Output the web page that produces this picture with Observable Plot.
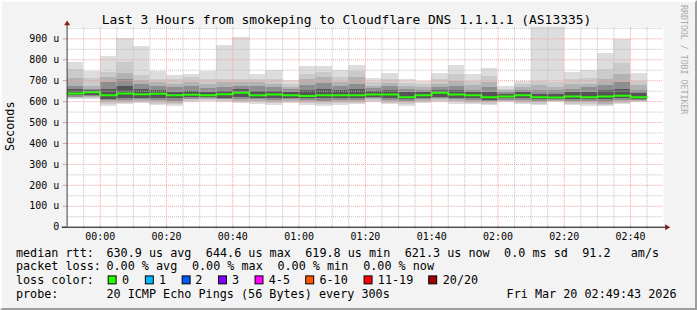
<!DOCTYPE html>
<html><head><meta charset="utf-8">
<script src="https://cdn.jsdelivr.net/npm/d3@7"></script>
<script src="https://cdn.jsdelivr.net/npm/@observablehq/plot@0.6"></script>
<style>
html,body{margin:0;padding:0;background:#f3f3f3;}
#chart{position:relative;width:697px;height:310px;box-sizing:border-box;background:#f3f3f3;
  border-top:2px solid #fdfdfd;border-left:2px solid #fdfdfd;border-right:2px solid #9e9e9e;border-bottom:2px solid #9e9e9e;overflow:hidden}
#chart svg{position:absolute;left:-2px;top:-2px}
</style></head><body><div id="chart"></div>
<script>
// ---- data (5-minute bins, time of bin start) ----
const binTimes = ["23:50","23:55","00:00","00:05","00:10","00:15","00:20","00:25","00:30","00:35",
  "00:40","00:45","00:50","00:55","01:00","01:05","01:10","01:15","01:20","01:25",
  "01:30","01:35","01:40","01:45","01:50","01:55","02:00","02:05","02:10","02:15",
  "02:20","02:25","02:30","02:35","02:40"];
// median rtt (us)
const medianRtt = [639,644.6,630,639,635,638,630,633,630,635, 643,630,634,630,627,630,630,630,634,634,
  621,630,642,634,630,621,625,630,621,619.8, 624,621,624,628,621.3];
// smoke bands (us), outermost to innermost
const pingMax = [788,746,817,900,865,746,725,730,746,868, 906,730,750,701,769,769,750,773,711,735,
  706,698,735,773,730,757,670,698,980,970, 741,751,830,897,735];
const band1Hi = [753,710,741,786,725,706,706,714,706,706, 706,706,706,682,730,738,714,746,690,706,
  687,682,706,730,698,722,659,682,698,690, 706,709,754,782,698];
const band2Hi = [710,674,714,733,703,690,682,690,682,690, 690,690,682,666,706,714,690,714,674,687,
  671,666,682,698,675,690,651,667,675,667, 682,682,706,730,675];
const band3Hi = [671,658,690,706,682,674,666,671,661,666, 671,671,666,658,677,687,671,682,661,671,
  658,655,666,674,655,667,643,655,655,651, 659,667,675,690,655];
const band4Hi = [658,652,658,674,658,655,646,650,646,650, 658,650,650,646,655,658,655,658,650,655,
  642,642,655,655,643,646,635,643,635,635, 643,646,651,659,640];
const band4Lo = [627,630,612,615,617,614,613,619,619,617, 622,616,614,616,613,614,616,614,620,615,
  610,616,622,616,614,606,613,614,610,611, 611,610,611,614,612];
const band3Lo = [622,624,604,606,609,604,602,612,614,611, 611,608,605,608,604,603,606,605,613,605,
  602,608,613,608,605,600,607,605,602,606, 602,601,598,605,607];
const band2Lo = [619,619,595,598,603,595,592,608,611,608, 603,603,598,603,598,595,598,598,608,598,
  595,603,608,603,598,595,603,598,595,603, 595,595,587,598,603];
const band1Lo = [615,613,586,592,597,588,584,600,607,603, 597,595,590,597,590,587,590,592,601,592,
  587,597,601,595,592,588,599,592,588,599, 588,587,581,592,599];
const pingMin = [612,608,576,587,592,582,576,595,603,598, 592,587,582,592,582,579,582,587,595,587,
  579,592,595,587,587,582,595,587,582,595, 582,579,576,587,595];

const yTicks = [0,100,200,300,400,500,600,700,800,900];
const yTickLabels = ["0","100 u","200 u","300 u","400 u","500 u","600 u","700 u","800 u","900 u"];
const xTicks = ["00:00","00:20","00:40","01:00","01:20","01:40","02:00","02:20","02:40"];

const lossLabels = ["0","1","2","3","4-5","6-10","11-19","20/20"];
const lossColors = ["#26ff00","#00b8ff","#0059ff","#7e00ff","#ff00ff","#ff5500","#ff0000","#a10000"];

const titleText = "Last 3 Hours from smokeping to Cloudflare DNS 1.1.1.1 (AS13335)";
const yLabel = "Seconds";
const watermark = "RRDTOOL / TOBI OETIKER";
const legendRtt = [["median rtt:",16],["630.9 us avg",107],["644.6 us max",207],["619.8 us min",307],
  ["621.3 us now",407],["0.0 ms sd",507],["91.2",585.6],["am/s",634.4]];
const legendLoss = [["packet loss:",16],["0.00 % avg",107],["0.00 % max",193],["0.00 % min",279],["0.00 % now",365.3]];
const probeText = "20 ICMP Echo Pings (56 Bytes) every 300s";
const dateText = "Fri Mar 20 02:49:43 2026";

// ---- helpers ----
const toMin = t => { const [h, m] = t.split(":").map(Number); return (h >= 12 ? h - 24 : h) * 60 + m; };
const bins = binTimes.map((t, i) => ({i, x1: toMin(t), x2: toMin(t) + 5}));
const levels = [
  {lo: pingMin, hi: pingMax, fill: "#dddddd"},
  {lo: band1Lo, hi: band1Hi, fill: "#cacaca"},
  {lo: band2Lo, hi: band2Hi, fill: "#b2b2b2"},
  {lo: band3Lo, hi: band3Hi, fill: "#8e8e8e"},
  {lo: band4Lo, hi: band4Hi, fill: "#555555"}
];
const medPts = bins.map(b => ({x: b.x1, y: medianRtt[b.i]}));
medPts.push({x: bins[bins.length - 1].x2, y: medianRtt[medianRtt.length - 1]});

const minorY = d3.range(50, 1000, 100);
const majorY = yTicks.filter(v => v > 0);
const xDomain = [toMin("23:50"), toMin("02:50")];
const majorX = xTicks.map(toMin);
const minorX = d3.range(xDomain[0] + 5, xDomain[1], 5).filter(v => !majorX.includes(v));

const plot = Plot.plot({
  width: 697, height: 310,
  marginLeft: 67, marginRight: 30, marginTop: 27, marginBottom: 82,
  x: {type: "linear", domain: xDomain, label: null},
  y: {type: "linear", domain: [0, 955], label: null},
  style: {fontFamily: "DejaVu Sans Mono", fontSize: "10px", background: "transparent", overflow: "visible", color: "#000"},
  marks: [
    Plot.frame({fill: "white", stroke: null}),
    ...levels.map(L => Plot.rect(bins, {x1: "x1", x2: "x2", y1: d => L.lo[d.i], y2: d => L.hi[d.i], fill: L.fill, clip: true, shapeRendering: "crispEdges"})),
    Plot.line(medPts, {x: "x", y: "y", curve: "step-after", stroke: "#26ff00", strokeWidth: 2}),
    Plot.ruleY(minorY, {stroke: "#c0c0c0", strokeDasharray: "1,1"}),
    Plot.ruleX(minorX, {stroke: "#c0c0c0", strokeDasharray: "1,1"}),
    Plot.ruleY(majorY, {stroke: "#f0a0a0", strokeDasharray: "1,1"}),
    Plot.ruleX(majorX, {stroke: "#f0a0a0", strokeDasharray: "1,1"}),
    Plot.axisY(yTicks, {label: null, tickFormat: d => yTickLabels[yTicks.indexOf(d)], tickSize: 4, tickPadding: 4, stroke: "#e89a9a"}),
    Plot.axisX(majorX, {label: null, tickFormat: d => xTicks[majorX.indexOf(d)], tickSize: 0, tickPadding: 6}),
    Plot.axisX(minorX, {label: null, tickFormat: () => "", tickSize: 2, stroke: "#c0c0c0"}),
    Plot.axisX(majorX, {label: null, tickFormat: () => "", tickSize: 2, stroke: "#f0a0a0"})
  ]
});
document.getElementById("chart").appendChild(plot);

// ---- axes, arrows, texts ----
const sx = plot.scale("x"), sy = plot.scale("y");
const svg = d3.select(plot);
const X0 = sx.apply(xDomain[0]), X1 = sx.apply(xDomain[1]), Y0 = sy.apply(0), YT = sy.apply(955);
const g = svg.append("g").attr("font-family", "DejaVu Sans Mono").attr("text-anchor", "start").attr("fill", "#000");
g.append("line").attr("x1", X0 + 0.5).attr("x2", X0 + 0.5).attr("y1", Y0).attr("y2", YT - 3).attr("stroke", "#404040");
g.append("line").attr("x1", X0 - 5).attr("x2", X1 + 3).attr("y1", Y0 + 0.5).attr("y2", Y0 + 0.5).attr("stroke", "#000");
g.append("path").attr("d", `M${X0 - 2.5},${YT - 1.5}L${X0 + 0.5},${YT - 6.5}L${X0 + 3.5},${YT - 1.5}Z`).attr("fill", "#8b1a1a");
g.append("path").attr("d", `M${X1 + 2},${Y0 - 2.5}L${X1 + 7},${Y0 + 0.5}L${X1 + 2},${Y0 + 3.5}Z`).attr("fill", "#8b1a1a");

g.append("text").attr("x", 348.5).attr("y", 24).attr("text-anchor", "middle").attr("font-size", 13).text(titleText);
g.append("text").attr("transform", "translate(13.6,127) rotate(-90)").attr("text-anchor", "middle").attr("font-size", 11.85).text(yLabel);
g.append("text").attr("transform", "translate(684.5,60) rotate(90)").attr("text-anchor", "middle").attr("font-size", 8.3).attr("fill", "#aaaaaa").text(watermark);

const fs = 11.85, base = [258.3, 272, 285.8, 299.5];
legendRtt.forEach(([t, x]) => g.append("text").attr("x", x).attr("y", base[0]).attr("font-size", fs).text(t));
legendLoss.forEach(([t, x]) => g.append("text").attr("x", x).attr("y", base[1]).attr("font-size", fs).text(t));
g.append("text").attr("x", 16).attr("y", base[2]).attr("font-size", fs).text("loss color:");
const boxX = [108.3, 145.7, 182.7, 219.3, 256, 307, 365.7, 430.7];
const labX = [122.6, 160, 196.3, 233.3, 270.3, 321.3, 380, 445.3];
lossLabels.forEach((lab, i) => {
  g.append("rect").attr("x", boxX[i] + 0.5).attr("y", 277.5).attr("width", 8).attr("height", 8)
    .attr("fill", lossColors[i]).attr("stroke", "#000").attr("stroke-width", 1);
  g.append("text").attr("x", labX[i]).attr("y", base[2]).attr("font-size", fs).text(lab);
});
g.append("text").attr("x", 16).attr("y", base[3]).attr("font-size", fs).text("probe:");
g.append("text").attr("x", 107).attr("y", base[3]).attr("font-size", fs).text(probeText);
g.append("text").attr("x", 680.5).attr("y", base[3]).attr("text-anchor", "end").attr("font-size", fs).text(dateText);
</script></body></html>
